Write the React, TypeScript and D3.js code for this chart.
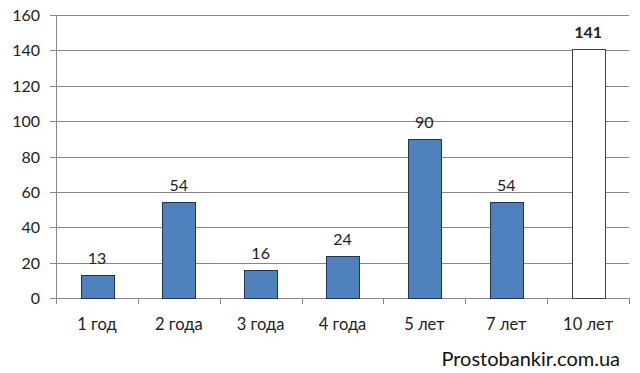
import React from 'react';
import * as d3 from 'd3';

const categories = ['1 год', '2 года', '3 года', '4 года', '5 лет', '7 лет', '10 лет'];
const values = [13, 54, 16, 24, 90, 54, 141];
const highlighted = [false, false, false, false, false, false, true];
const yTicks = [0, 20, 40, 60, 80, 100, 120, 140, 160];

export default function App() {
  const W = 640;
  const H = 373;
  const margin = { top: 15, right: 11, bottom: 75, left: 56 };
  const innerW = W - margin.left - margin.right;
  const innerH = H - margin.top - margin.bottom;

  const x = d3.scaleBand<string>().domain(categories).range([0, innerW]).padding(0);
  const y = d3.scaleLinear().domain([0, 160]).range([innerH, 0]);
  const barW = x.bandwidth() * 0.4;
  const font = 'Lato, "Open Sans", sans-serif';

  return (
    <svg width={W} height={H} style={{ position: 'absolute', left: 0, top: 0, background: '#fff' }}>
      <g transform={`translate(${margin.left},${margin.top})`}>
        {/* gridlines + y labels */}
        {yTicks.map(t => (
          <g key={t} transform={`translate(0,${Math.round(y(t)) + 0.5})`}>
            <line x1={-6} x2={innerW} stroke="#888" strokeWidth={1} />
            <text x={-16} dy="0.35em" textAnchor="end" fontSize={16} fontFamily={font} fill="#222">
              {t}
            </text>
          </g>
        ))}
        {/* y axis */}
        <line x1={0.5} x2={0.5} y1={0} y2={innerH + 6} stroke="#888" />
        {/* category ticks */}
        {categories.map(c => (
          <line
            key={'t' + c}
            x1={Math.round((x(c) ?? 0) + x.bandwidth()) + 0.5}
            x2={Math.round((x(c) ?? 0) + x.bandwidth()) + 0.5}
            y1={innerH}
            y2={innerH + 6}
            stroke="#888"
          />
        ))}
        {/* bars */}
        {categories.map((c, i) => {
          const cx = (x(c) ?? 0) + x.bandwidth() / 2;
          const top = y(values[i]);
          return (
            <g key={c}>
              <rect
                x={Math.round(cx - barW / 2) + 0.5}
                y={Math.round(top) + 0.5}
                width={Math.round(barW)}
                height={Math.round(innerH - top)}
                fill={highlighted[i] ? '#fff' : '#4f81bd'}
                stroke={highlighted[i] ? '#404040' : '#1f3550'}
                strokeWidth={1}
              />
              <text
                x={cx}
                y={top - 11}
                textAnchor="middle"
                fontSize={16}
                fontWeight={highlighted[i] ? 'bold' : 'normal'}
                fontFamily={font}
                fill="#222"
              >
                {values[i]}
              </text>
              <text x={cx} y={innerH + 32} textAnchor="middle" fontSize={16.5} fontFamily={font} fill="#222">
                {c}
              </text>
            </g>
          );
        })}
      </g>
      <text x={620} y={366} textAnchor="end" fontSize={20} fontFamily={font} fill="#111">
        Prostobankir.com.ua
      </text>
    </svg>
  );
}
